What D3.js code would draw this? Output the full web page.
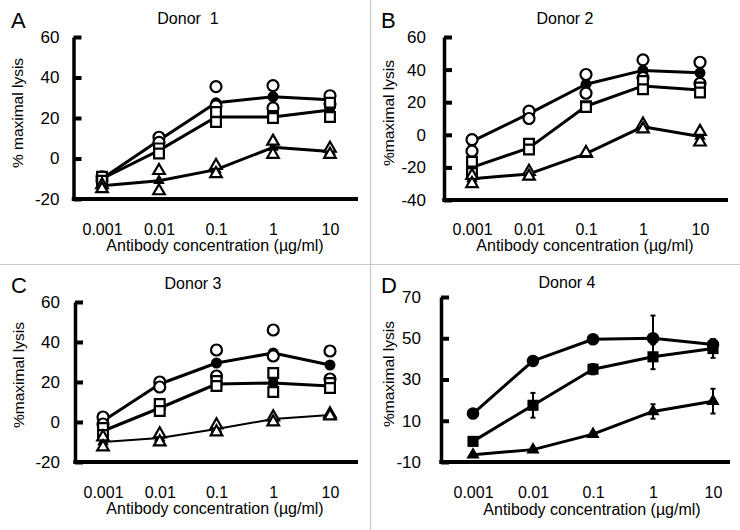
<!DOCTYPE html>
<html>
<head>
<meta charset="utf-8">
<script src="https://cdn.jsdelivr.net/npm/d3@7"></script>
<style>
  body { margin: 0; background: #fff; }
  svg text { font-family: "Liberation Sans", Arial, sans-serif; fill: #000; }
</style>
</head>
<body>
<svg id="chart" width="740" height="530"></svg>
<script>
var conc = [0.001, 0.01, 0.1, 1, 10]
  , concLabels = ['0.001', '0.01', '0.1', '1', '10']

// Donor 1 : mean (filled) and two replicates (open) per concentration
var d1CircleMean = [-10, 9, 27.5, 30.5, 29]
  , d1CircleReps = [[-9, -11], [10.5, 8], [35.5, 26], [36, 25], [31, 27]]
  , d1SquareMean = [-10, 4, 20.5, 20.5, 24]
  , d1SquareReps = [[-9, -11], [5, 2.5], [23, 18], [21, 20], [27.5, 20.5]]
  , d1TriMean = [-13.5, -11, -5.5, 5.5, 3.5]
  , d1TriReps = [[-13, -15], [-6, -16], [-3.5, -7.5], [8.5, 2], [5, 2]]

// Donor 2
var d2CircleMean = [-4, 13, 31, 39.5, 38]
  , d2CircleReps = [[-3, -10], [14.5, 10], [37, 25.5], [46, 35], [44.5, 31.5]]
  , d2SquareMean = [-20, -8, 17.5, 30, 27.5]
  , d2SquareReps = [[-16.5, -23.5], [-5.5, -9], [17.5, 17], [33, 28], [29, 26]]
  , d2TriMean = [-27, -24, -11.5, 5, -1]
  , d2TriReps = [[-25, -30], [-22.5, -25.5], [-11.5, -11], [6.5, 3.5], [2, -4.5]]

// Donor 3
var d3CircleMean = [0.5, 19, 29.5, 34.5, 28.5]
  , d3CircleReps = [[2.5, -1], [20, 17.5], [36, 23], [46, 33], [35.5, 21.5]]
  , d3SquareMean = [-4.5, 7, 19, 19.5, 18]
  , d3SquareReps = [[-3, -6.5], [9, 5.5], [20.5, 18], [24.5, 15], [19.5, 17]]
  , d3TriMean = [-10, -8, -3.5, 1.5, 3.5]
  , d3TriReps = [[-7.5, -12.5], [-6, -10], [-1.5, -5], [2.5, 0], [4, 3]]

// Donor 4 : mean with error bars
var d4CircleMean = [13.5, 39, 49.5, 50, 47]
  , d4CircleErr = [1, 2, 1.5, 11, 2.5]
  , d4SquareMean = [0, 17.5, 35, 41, 45]
  , d4SquareErr = [1, 6, 2.5, 6, 4.5]
  , d4TriMean = [-6.5, -4, 3.5, 14.5, 19.5]
  , d4TriErr = [0.5, 0.5, 1, 3.5, 6]

var symbols = { circle: d3.symbolCircle, square: d3.symbolSquare, triangle: d3.symbolTriangle }
  , symbolSize = { circle: 95, square: 95, triangle: 58 }

var panels = [
  { letter: 'A', letterX: 11, letterY: 28, title: 'Donor  1', titleX: 188, titleY: 24,
    yTitle: '% maximal lysis', yTitleX: 22.5, yTitleY: 113,
    axisX: 73.5, x0: 102, x1: 330, xEnd: 358, yTop: 37, yBot: 199, pad: 14,
    yDomain: [-20, 60], yTicks: [-20, 0, 20, 40, 60],
    xLabelY: 235, xTitleX: 215, xTitleY: 251,
    series: [
      { shape: 'circle', mean: d1CircleMean, reps: d1CircleReps },
      { shape: 'square', mean: d1SquareMean, reps: d1SquareReps },
      { shape: 'triangle', mean: d1TriMean, reps: d1TriReps }
    ] },
  { letter: 'B', letterX: 381, letterY: 28, title: 'Donor 2', titleX: 565, titleY: 24,
    yTitle: '%maximal lysis', yTitleX: 393.5, yTitleY: 113,
    axisX: 444, x0: 472, x1: 700, xEnd: 728, yTop: 37, yBot: 200, pad: 18,
    yDomain: [-40, 60], yTicks: [-40, -20, 0, 20, 40, 60],
    xLabelY: 235, xTitleX: 585, xTitleY: 251,
    series: [
      { shape: 'circle', mean: d2CircleMean, reps: d2CircleReps },
      { shape: 'square', mean: d2SquareMean, reps: d2SquareReps },
      { shape: 'triangle', mean: d2TriMean, reps: d2TriReps }
    ] },
  { letter: 'C', letterX: 11, letterY: 293, title: 'Donor 3', titleX: 193, titleY: 289,
    yTitle: '%maximal lysis', yTitleX: 24, yTitleY: 375,
    axisX: 75, x0: 103, x1: 330, xEnd: 358, yTop: 302, yBot: 462, pad: 15,
    yDomain: [-20, 60], yTicks: [-20, 0, 20, 40, 60],
    xLabelY: 498, xTitleX: 215, xTitleY: 514,
    series: [
      { shape: 'circle', mean: d3CircleMean, reps: d3CircleReps },
      { shape: 'square', mean: d3SquareMean, reps: d3SquareReps },
      { shape: 'triangle', mean: d3TriMean, reps: d3TriReps, lineWidth: 2 }
    ] },
  { letter: 'D', letterX: 381, letterY: 293, title: 'Donor 4', titleX: 567, titleY: 288,
    yTitle: '%maximal lysis', yTitleX: 394, yTitleY: 374,
    axisX: 441, x0: 473, x1: 713, xEnd: 730, yTop: 297, yBot: 462, pad: 20,
    yDomain: [-10, 70], yTicks: [-10, 10, 30, 50, 70],
    xLabelY: 498, xTitleX: 592, xTitleY: 515,
    series: [
      { shape: 'circle', mean: d4CircleMean, err: d4CircleErr },
      { shape: 'square', mean: d4SquareMean, err: d4SquareErr },
      { shape: 'triangle', mean: d4TriMean, err: d4TriErr }
    ] }
]

var svg = d3.select('#chart')

// light grey dividers between panels
svg.append('line').attr('x1', 370.5).attr('x2', 370.5).attr('y1', 0).attr('y2', 530)
  .attr('stroke', '#c8c8c8').attr('stroke-width', 1.2)
svg.append('line').attr('x1', 0).attr('x2', 740).attr('y1', 264.5).attr('y2', 264.5)
  .attr('stroke', '#c8c8c8').attr('stroke-width', 1.2)

var drawPanel = function(p) {
  var g = svg.append('g')
    , x = d3.scaleLog().domain([conc[0], conc[conc.length - 1]]).range([p.x0, p.x1])
    , y = d3.scaleLinear().domain(p.yDomain).range([p.yBot, p.yTop])

  // y axis with short inward ticks, plain hyphen for negatives
  var ya = g.append('g').attr('transform', 'translate(' + p.axisX + ',0)')
    .call(d3.axisLeft(y).tickValues(p.yTicks).tickSize(-8).tickSizeOuter(0)
      .tickPadding(p.pad).tickFormat(String))
  ya.select('.domain').attr('stroke-width', 3.5)
  ya.selectAll('.tick line').attr('stroke-width', 4)
  ya.selectAll('.tick text').attr('font-size', 17)

  // x axis: thick baseline, labels only
  g.append('line').attr('x1', p.axisX - 1.75).attr('x2', p.xEnd)
    .attr('y1', p.yBot).attr('y2', p.yBot)
    .attr('stroke', '#000').attr('stroke-width', 4)
  var xa = g.append('g').attr('transform', 'translate(0,' + p.yBot + ')')
    .call(d3.axisBottom(x).tickValues(conc).tickSize(0)
      .tickPadding(p.xLabelY - p.yBot - 11.3)
      .tickFormat(function(d, i) { return concLabels[i] }))
  xa.select('.domain').remove()
  xa.selectAll('.tick text').attr('font-size', 16)

  g.append('text').attr('x', p.letterX).attr('y', p.letterY)
    .attr('font-size', 22).text(p.letter)
  g.append('text').attr('x', p.titleX).attr('y', p.titleY)
    .attr('text-anchor', 'middle').attr('font-size', 16)
    .style('white-space', 'pre').text(p.title)
  g.append('text').attr('x', p.xTitleX).attr('y', p.xTitleY)
    .attr('text-anchor', 'middle').attr('font-size', 16)
    .text('Antibody concentration (\u00b5g/ml)')
  g.append('text')
    .attr('transform', 'translate(' + p.yTitleX + ',' + p.yTitleY + ') rotate(-90)')
    .attr('text-anchor', 'middle').attr('font-size', 15.5).text(p.yTitle)

  var line = d3.line()
    .x(function(d, i) { return x(conc[i]) })
    .y(function(d) { return y(d) })

  // error bars (donor 4)
  p.series.forEach(function(s) {
    if (!s.err) return
    var eb = g.append('g').selectAll('g').data(s.mean).enter().append('g')
    eb.append('line')
      .attr('x1', function(d, i) { return x(conc[i]) })
      .attr('x2', function(d, i) { return x(conc[i]) })
      .attr('y1', function(d, i) { return y(d - s.err[i]) })
      .attr('y2', function(d, i) { return y(d + s.err[i]) })
      .attr('stroke', '#000').attr('stroke-width', 2)
    ;[-1, 1].forEach(function(sign) {
      eb.append('line')
        .attr('x1', function(d, i) { return x(conc[i]) - 2.5 })
        .attr('x2', function(d, i) { return x(conc[i]) + 2.5 })
        .attr('y1', function(d, i) { return y(d + sign * s.err[i]) })
        .attr('y2', function(d, i) { return y(d + sign * s.err[i]) })
        .attr('stroke', '#000').attr('stroke-width', 2)
    })
  })

  // mean lines
  p.series.forEach(function(s) {
    g.append('path').datum(s.mean).attr('d', line)
      .attr('fill', 'none').attr('stroke', '#000')
      .attr('stroke-width', s.lineWidth || 3).attr('stroke-linejoin', 'round')
  })

  // filled mean markers
  p.series.forEach(function(s) {
    var sym = d3.symbol().type(symbols[s.shape]).size(symbolSize[s.shape] * (s.err ? 1.3 : 1))
    g.append('g').selectAll('path').data(s.mean).enter().append('path')
      .attr('transform', function(d, i) { return 'translate(' + x(conc[i]) + ',' + y(d) + ')' })
      .attr('d', sym).attr('fill', '#000')
  })

  // open replicate markers
  p.series.forEach(function(s) {
    if (!s.reps) return
    var sym = d3.symbol().type(symbols[s.shape]).size(symbolSize[s.shape])
      , pts = []
    s.reps.forEach(function(r, i) {
      r.forEach(function(v) { pts.push({ c: conc[i], v: v }) })
    })
    g.append('g').selectAll('path').data(pts).enter().append('path')
      .attr('transform', function(d) { return 'translate(' + x(d.c) + ',' + y(d.v) + ')' })
      .attr('d', sym).attr('fill', '#fff').attr('stroke', '#000').attr('stroke-width', 2.2)
  })
}

panels.forEach(drawPanel)
</script>
</body>
</html>
